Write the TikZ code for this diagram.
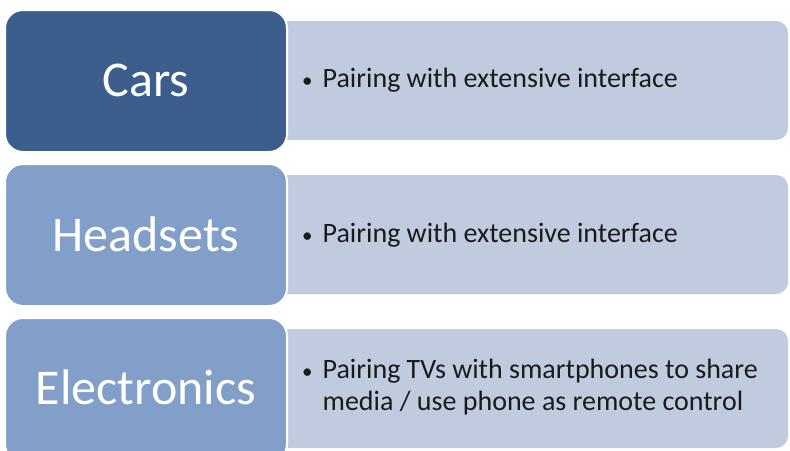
\documentclass[tikz,border=0pt]{standalone}
\usepackage{fontspec}
\setmainfont{Carlito}
\definecolor{darkbox}{HTML}{3B5E8C}
\definecolor{midbox}{HTML}{819FC8}
\definecolor{lightbox}{HTML}{C1CBE0}
\definecolor{bodytext}{HTML}{1A1A1A}
\newcommand{\smallbul}{{\fontsize{21}{21}\selectfont\textbullet}}
\tikzset{
  detailbox/.style={fill=lightbox, draw=none, rounded corners=12pt},
  labelbox/.style={draw=white, line width=2pt, rounded corners=18pt},
  labeltext/.style={text=white, font=\fontsize{50}{56}\selectfont},
  bullettext/.style={text=bodytext, anchor=west, align=left, inner sep=0pt, font=\fontsize{28}{32.5}\selectfont}
}
\begin{document}
\begin{tikzpicture}[x=1pt,y=-1pt]
\useasboundingbox[fill=white] (0,0) rectangle (790,450);
% row 1
\path[detailbox] (262,21) rectangle (788,140);
\path[labelbox, fill=darkbox] (5,10) rectangle (287,152);
\node[labeltext] (cars) at (146,80) {Cars};
\node[bullettext] (d1) at (302,81) {\begin{tabular}{@{}l@{\hspace{10pt}}l@{}}\smallbul & Pairing with extensive interface\end{tabular}};
% row 2
\path[detailbox] (262,175) rectangle (788,294);
\path[labelbox, fill=midbox] (5,164) rectangle (287,306);
\node[labeltext] (headsets) at (146,234) {Headsets};
\node[bullettext] (d2) at (302,236) {\begin{tabular}{@{}l@{\hspace{10pt}}l@{}}\smallbul & Pairing with extensive interface\end{tabular}};
% row 3
\path[detailbox] (262,329) rectangle (788,448);
\path[labelbox, fill=midbox] (5,318) rectangle (287,462);
\node[labeltext] (electronics) at (146,387) {Electronics};
\node[bullettext] (d3) at (302,388) {\begin{tabular}{@{}l@{\hspace{10pt}}l@{}}\smallbul & Pairing TVs with smartphones to share\\ & media / use phone as remote control\end{tabular}};
\end{tikzpicture}
\end{document}
